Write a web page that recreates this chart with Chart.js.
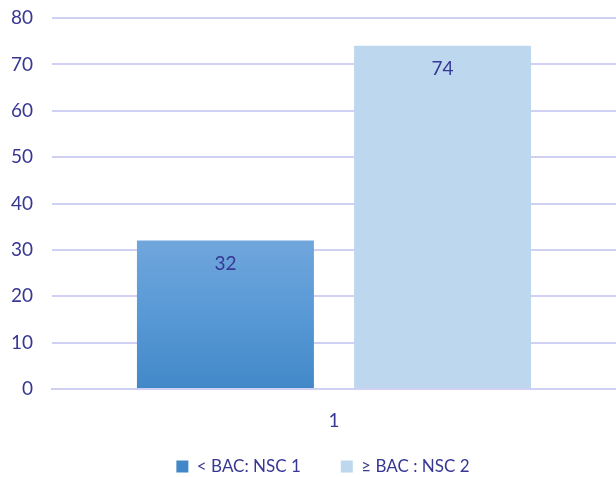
<!DOCTYPE html>
<html>
<head>
<meta charset="utf-8">
<script src="https://cdn.jsdelivr.net/npm/chart.js@4/dist/chart.umd.min.js"></script>
<style>
    html, body { margin: 0; padding: 0; background: #fff; }
    #wrap { width: 616px; height: 477px; }
</style>
</head>
<body>
<div id="wrap"><canvas id="chart"></canvas></div>
<script>
const categories = ['1'];
const seriesNames = ['< BAC: NSC 1', '≥ BAC : NSC 2'];
const seriesValues = [[32], [74]];
const yTicks = [0, 10, 20, 30, 40, 50, 60, 70, 80];

const textColor = 'rgb(55, 55, 148)';
const gridColor = 'rgb(208, 208, 244)';
const fontFamily = 'Lato, "Open Sans", sans-serif';

// gradient for the first bar, lighter at the top of the bar
const blueGradient = ctx => {
    const area = ctx.chart.chartArea;
    if (!area) return 'rgb(85, 150, 210)';
    const top = ctx.chart.scales.y.getPixelForValue(ctx.raw);
    const g = ctx.chart.ctx.createLinearGradient(0, top, 0, area.bottom);
    g.addColorStop(0, 'rgb(112, 166, 220)');
    g.addColorStop(0.5, 'rgb(88, 153, 214)');
    g.addColorStop(1, 'rgb(66, 136, 200)');
    return g;
};

// value labels inside the top of each bar
const valueLabels = {
    id: 'valueLabels',
    afterDatasetsDraw(chart) {
        const c = chart.ctx;
        c.save();
        c.fillStyle = textColor;
        c.font = '19px ' + fontFamily;
        c.textAlign = 'center';
        c.textBaseline = 'middle';
        chart.data.datasets.forEach((ds, i) => {
            chart.getDatasetMeta(i).data.forEach((bar, j) => {
                c.fillText(ds.data[j], bar.x, bar.y + 23);
            });
        });
        c.restore();
    },
};

// legend sits a bit lower and a bit more to the right than chart.js puts it
const legendPlace = {
    id: 'legendPlace',
    beforeUpdate(chart) {
        const legend = chart.legend;
        if (!legend || legend._placed) return;
        const fit = legend.fit;
        legend.fit = function () {
            fit.call(this);
            this.height -= 8;
        };
        legend._placed = true;
    },
    afterLayout(chart) {
        if (chart.legend) chart.legend.left += 30;
    },
};

new Chart(document.querySelector('#chart'), {
    type: 'bar',
    data: {
        labels: categories,
        datasets: [
            {
                label: seriesNames[0],
                data: seriesValues[0],
                backgroundColor: blueGradient,
            },
            {
                label: seriesNames[1],
                data: seriesValues[1],
                backgroundColor: 'rgb(189, 215, 238)',
            },
        ],
    },
    options: {
        responsive: true,
        maintainAspectRatio: false,
        animation: false,
        categoryPercentage: 0.77,
        barPercentage: 0.815,
        layout: { padding: { top: 18, right: 0, left: 0, bottom: 0 } },
        plugins: {
            tooltip: { enabled: false },
            legend: {
                position: 'bottom',
                labels: {
                    color: textColor,
                    font: { size: 17, family: fontFamily },
                    boxWidth: 12,
                    boxHeight: 12,
                    padding: 40,
                },
            },
        },
        scales: {
            x: {
                grid: { display: false },
                border: { display: true, color: gridColor, width: 2 },
                ticks: {
                    color: textColor,
                    font: { size: 19, family: fontFamily },
                    padding: 12,
                },
                afterFit: axis => {
                    axis.height = 29;
                    // the label hangs below the axis box, don't clip it
                    axis._computeLabelArea = () => undefined;
                },
            },
            y: {
                min: 0,
                max: 80,
                afterBuildTicks: axis => {
                    axis.ticks = yTicks.map(v => ({ value: v }));
                },
                grid: { color: gridColor, lineWidth: 2, drawTicks: false },
                border: { display: false },
                ticks: {
                    color: textColor,
                    font: { size: 19, family: fontFamily },
                    padding: 19,
                },
                afterFit: axis => {
                    axis.width = 52;
                    axis.paddingTop = 0;
                    axis.paddingBottom = 0;
                },
            },
        },
    },
    plugins: [valueLabels, legendPlace],
});
</script>
</body>
</html>
